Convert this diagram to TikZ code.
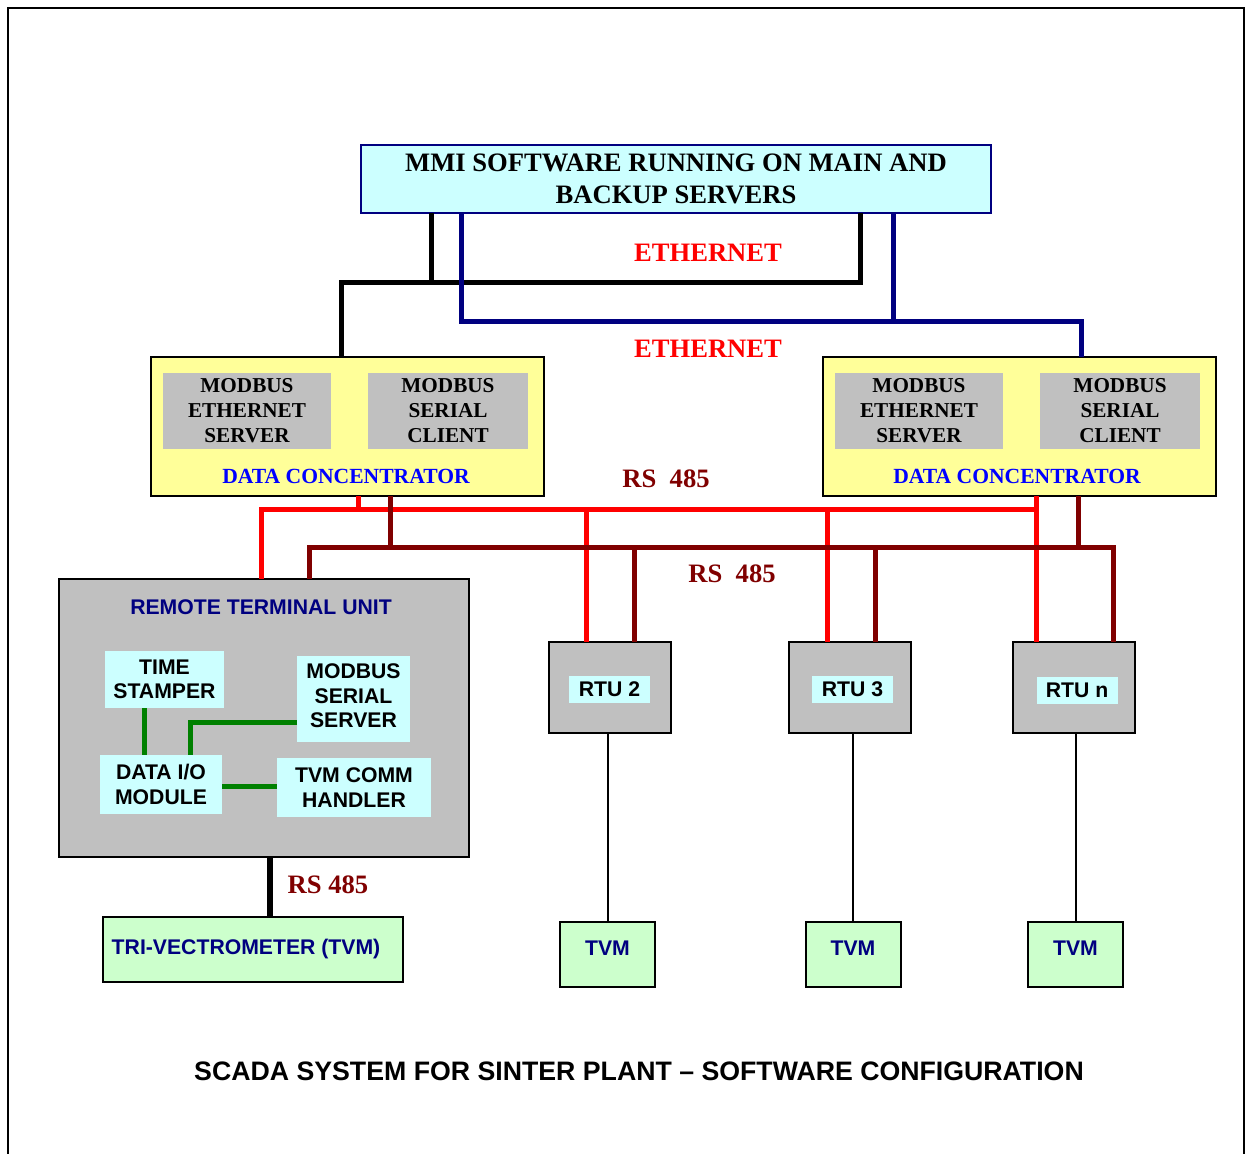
\documentclass[tikz,border=0pt]{standalone}
\usepackage{fontspec}
\setmainfont{Liberation Serif}
\setsansfont{Liberation Sans}

\definecolor{cyanfill}{HTML}{CCFFFF}
\definecolor{yellowfill}{HTML}{FFFF99}
\definecolor{grayfill}{HTML}{C0C0C0}
\definecolor{greenfill}{HTML}{CCFFCC}
\definecolor{navy}{HTML}{000080}
\definecolor{darkred}{HTML}{800000}
\definecolor{linkgreen}{HTML}{008000}
\definecolor{pureblue}{HTML}{0000FF}

\newcommand\fntHead{\rmfamily\bfseries\fontsize{26.6}{32}\selectfont}
\newcommand\fntInner{\rmfamily\bfseries\fontsize{21.2}{25}\selectfont}
\newcommand\fntLabel{\rmfamily\bfseries\fontsize{21.6}{25}\selectfont}
\newcommand\fntMod{\sffamily\bfseries\fontsize{21.2}{24.5}\selectfont}
\newcommand\fntCaption{\sffamily\bfseries\fontsize{26.7}{30}\selectfont}

\tikzset{
  every node/.style={inner sep=0, outer sep=0},
  mmibox/.style={draw=navy, fill=cyanfill, line width=2, minimum width=630,
    minimum height=68, align=center, font=\fntHead},
  dcbox/.style={draw=black, fill=yellowfill, line width=2, minimum width=393,
    minimum height=139},
  graybox/.style={fill=grayfill, minimum height=76, align=center, font=\fntInner},
  dclabel/.style={text=pureblue, font=\fntLabel},
  rtubox/.style={draw=black, fill=grayfill, line width=2.2},
  module/.style={fill=cyanfill, align=center, font=\fntMod},
  tag/.style={fill=cyanfill, minimum width=81, minimum height=27, font=\fntMod},
  tvmbox/.style={draw=black, fill=greenfill, line width=2, minimum height=65},
  tvmtext/.style={text=navy, font=\fntMod},
  linklabel/.style={font=\fntHead},
  ethblack/.style={draw=black, line width=5},
  ethblue/.style={draw=navy, line width=5},
  rsred/.style={draw=red, line width=5},
  rsdark/.style={draw=darkred, line width=5},
  internal/.style={draw=linkgreen, line width=5},
  fieldbus/.style={draw=black, line width=6},
  thinlink/.style={draw=black, line width=2},
}

\begin{document}
\begin{tikzpicture}[x=1pt, y=-1pt]
\useasboundingbox (0,0) rectangle (1246,1153);

% page frame, open at the bottom
\draw[line width=2] (8,1170) -- (8,8) -- (1244,8) -- (1244,1170);

% servers
\node[mmibox] (mmi) at (676,179) {MMI SOFTWARE RUNNING ON MAIN AND\\BACKUP SERVERS};

% data concentrators
\node[dcbox] (dcl) at (347.5,426.5) {};
\node[graybox, minimum width=168] (dcl-es) at (247,411) {MODBUS\\ETHERNET\\SERVER};
\node[graybox, minimum width=160] (dcl-sc) at (448,411) {MODBUS\\SERIAL\\CLIENT};
\node[dclabel] (dcl-lbl) at (346,476) {DATA CONCENTRATOR};

\node[dcbox] (dcr) at (1019.5,426.5) {};
\node[graybox, minimum width=168] (dcr-es) at (919,411) {MODBUS\\ETHERNET\\SERVER};
\node[graybox, minimum width=160] (dcr-sc) at (1120,411) {MODBUS\\SERIAL\\CLIENT};
\node[dclabel] (dcr-lbl) at (1017,476) {DATA CONCENTRATOR};

% remote terminal unit with its software modules
\node[rtubox, minimum width=410, minimum height=278] (rtu1) at (264,718) {};
\node[tvmtext] (rtu1-lbl) at (261,607) {REMOTE TERMINAL UNIT};
\node[module, minimum width=119, minimum height=57] (ts) at (164.5,679.5) {TIME\\STAMPER};
\node[module, minimum width=113, minimum height=86] (mss) at (353.5,699) {};
\node[font=\fntMod, align=center] (mss-txt) at (353.5,696) {MODBUS\\SERIAL\\SERVER};
\node[module, minimum width=122, minimum height=59] (dio) at (161,784.5) {DATA I/O\\MODULE};
\node[module, minimum width=154, minimum height=59] (tvc) at (354,787.5) {TVM COMM\\HANDLER};

\node[tvmbox, minimum width=300] (tri) at (253,949.5) {};
\node[tvmtext] (tri-lbl) at (246,949.5) {TRI-VECTROMETER (TVM)};

% further RTUs
\node[rtubox, minimum width=122, minimum height=91] (rtu2) at (610,687.5) {};
\node[tag] (rtu2-tag) at (609.5,689.5) {RTU 2};
\node[rtubox, minimum width=122, minimum height=91] (rtu3) at (850,687.5) {};
\node[tag] (rtu3-tag) at (852.5,689) {RTU 3};
\node[rtubox, minimum width=122, minimum height=91] (rtun) at (1074,687.5) {};
\node[tag] (rtun-tag) at (1077,690) {RTU n};

% TVMs
\node[tvmbox, minimum width=95] (tvm2) at (607.5,954.5) {};
\node[tvmtext] (tvm2-lbl) at (607.5,948) {TVM};
\node[tvmbox, minimum width=95] (tvm3) at (853,954.5) {};
\node[tvmtext] (tvm3-lbl) at (853,948) {TVM};
\node[tvmbox, minimum width=95] (tvmn) at (1075.5,954.5) {};
\node[tvmtext] (tvmn-lbl) at (1075.5,948) {TVM};

% ethernet links
\draw[ethblack] ([xshift=499]mmi.south west) |- (341,282) -- (341,0 |- dcl.north);
\draw[ethblack] ([xshift=70]mmi.south west) -- (431,282);
\draw[ethblue] ([xshift=100]mmi.south west) |- (1081,321) -- (1081,0 |- dcr.north);
\draw[ethblue] ([xshift=532]mmi.south west) -- (893,321);

% RS 485 lines
\draw[rsred] (358,0 |- dcl.south) -- (358,509);
\draw[rsred] (261,0 |- rtu1.north) |- (1036,509);
\draw[rsred] (1036,0 |- dcr.south) -- (1036,0 |- rtun.north);
\draw[rsred] (586,509) -- (586,0 |- rtu2.north);
\draw[rsred] (827,509) -- (827,0 |- rtu3.north);

\draw[rsdark] (309,0 |- rtu1.north) |- (1113,547) -- (1113,0 |- rtun.north);
\draw[rsdark] (390,0 |- dcl.south) -- (390,547);
\draw[rsdark] (1078,0 |- dcr.south) -- (1078,547);
\draw[rsdark] (634,547) -- (634,0 |- rtu2.north);
\draw[rsdark] (875,547) -- (875,0 |- rtu3.north);

% links inside the RTU
\draw[internal] (144,0 |- ts.south) -- (144,0 |- dio.north);
\draw[internal] (mss.west |- 0,722) -| (190,0 |- dio.north);
\draw[internal] (dio.east |- 0,786) -- (tvc.west |- 0,786);

% field links to the TVMs
\draw[fieldbus] (270,0 |- rtu1.south) -- (270,0 |- tri.north);
\draw[thinlink] (tvm2.north |- rtu2.south) -- (tvm2.north);
\draw[thinlink] (tvm3.north |- rtu3.south) -- (tvm3.north);
\draw[thinlink] (tvmn.north |- rtun.south) -- (tvmn.north);

% link labels
\node[linklabel, text=red] (eth1) at (708,253) {ETHERNET};
\node[linklabel, text=red] (eth2) at (708,349) {ETHERNET};
\node[linklabel, text=darkred] (rs1) at (666,479) {RS\ \ 485};
\node[linklabel, text=darkred] (rs2) at (732,574) {RS\ \ 485};
\node[linklabel, text=darkred] (rs3) at (328,885) {RS 485};

% caption
\node[font=\fntCaption] (caption) at (639,1071) {SCADA SYSTEM FOR SINTER PLANT – SOFTWARE CONFIGURATION};
\end{tikzpicture}
\end{document}
